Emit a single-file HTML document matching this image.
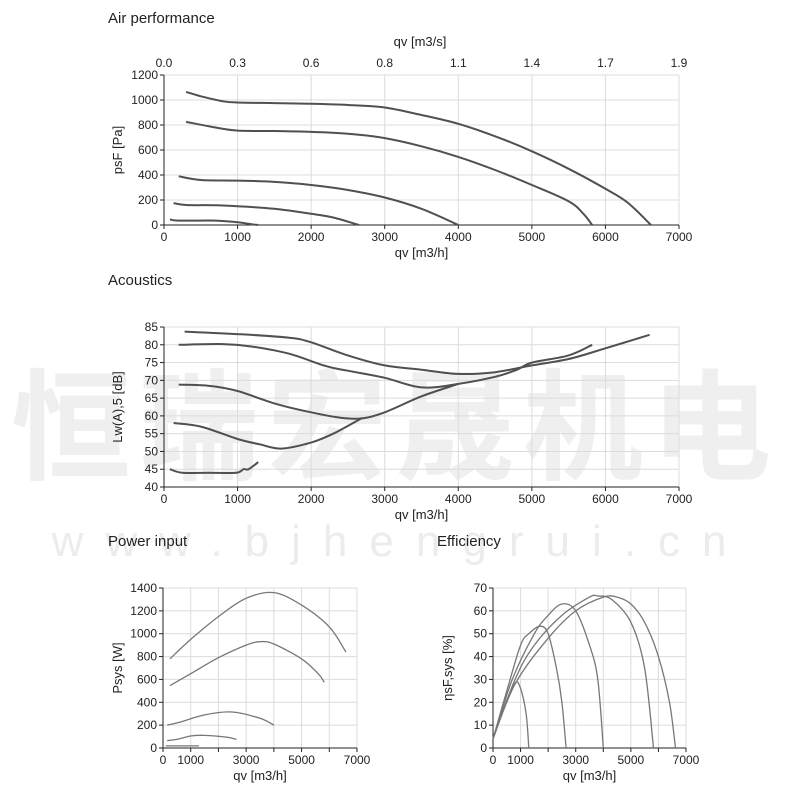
<!DOCTYPE html>
<html><head><meta charset="utf-8">
<style>
body{margin:0;background:#fff;width:800px;height:800px;overflow:hidden}
svg text{font-family:"Liberation Sans",sans-serif;fill:#222}
</style></head><body>
<svg id="s" width="800" height="800" xmlns="http://www.w3.org/2000/svg">
<text x="395" y="470" font-size="120" style="font-family:'Liberation Sans','Noto Sans CJK SC',sans-serif;fill:#efefef;font-weight:bold" text-anchor="middle" letter-spacing="8">恒瑞宏晟机电</text>
<text x="400" y="556" font-size="44" style="fill:#ececec" text-anchor="middle" letter-spacing="22">www.bjhengrui.cn</text>
<text x="108" y="23" font-size="15">Air performance</text>
<text x="108" y="285" font-size="15">Acoustics</text>
<text x="108" y="546" font-size="15">Power input</text>
<text x="437" y="546" font-size="15">Efficiency</text>
</svg>
<script>
const S=document.getElementById('s');const NS='http://www.w3.org/2000/svg';
function el(t,a,txt){const e=document.createElementNS(NS,t);for(const k in a)e.setAttribute(k,a[k]);if(txt!==undefined)e.textContent=txt;S.appendChild(e);return e;}
function path(pts){let d='M'+pts[0][0].toFixed(1)+','+pts[0][1].toFixed(1);
for(let i=0;i<pts.length-1;i++){const p0=pts[Math.max(0,i-1)],p1=pts[i],p2=pts[i+1],p3=pts[Math.min(pts.length-1,i+2)];
const c1=[p1[0]+(p2[0]-p0[0])/6,p1[1]+(p2[1]-p0[1])/6],c2=[p2[0]-(p3[0]-p1[0])/6,p2[1]-(p3[1]-p1[1])/6];
d+=`C${c1[0].toFixed(1)},${c1[1].toFixed(1)} ${c2[0].toFixed(1)},${c2[1].toFixed(1)} ${p2[0].toFixed(1)},${p2[1].toFixed(1)}`;}return d;}
function chart(o){
 const X=v=>o.x0+(o.x1-o.x0)*v/7000, Y=v=>o.yb-(o.yb-o.yt)*(v-o.ymin)/(o.ymax-o.ymin);
 for(let v=0;v<=7000;v+=1000){el('line',{x1:X(v),x2:X(v),y1:o.yt,y2:o.yb,stroke:'#dcdcdc','stroke-width':1});
  el('line',{x1:X(v),x2:X(v),y1:o.yb,y2:o.yb+4,stroke:'#222'});
  if(o.xl.includes(v))el('text',{x:X(v),y:o.yb+16,'font-size':12,'text-anchor':'middle'},v);}
 for(let v=o.ymin;v<=o.ymax;v+=o.ys){el('line',{x1:o.x0,x2:o.x1,y1:Y(v),y2:Y(v),stroke:'#dcdcdc'});
  el('line',{x1:o.x0-4,x2:o.x0,y1:Y(v),y2:Y(v),stroke:'#222'});
  el('text',{x:o.x0-6,y:Y(v)+4,'font-size':12,'text-anchor':'end'},v);}
 el('line',{x1:o.x0,x2:o.x0,y1:o.yt,y2:o.yb,stroke:'#222'});
 el('line',{x1:o.x0,x2:o.x1,y1:o.yb,y2:o.yb,stroke:'#222'});
 el('text',{x:(o.x0+o.x1)/2,y:o.yb+32,'font-size':13,'text-anchor':'middle'},'qv [m3/h]');
 const cy=(o.yt+o.yb)/2;el('text',{x:o.ylx,y:cy,'font-size':13,'text-anchor':'middle',transform:`rotate(-90 ${o.ylx} ${cy})`},o.yl);
 for(const c of o.curves)el('path',{d:path(c.map(p=>[X(p[0]),Y(p[1])])),fill:'none',stroke:o.col,'stroke-width':o.w,'stroke-linejoin':'round'});
 return X;}
const X1=chart({x0:164,x1:679,yt:75,yb:225,ymin:0,ymax:1200,ys:200,xl:[0,1000,2000,3000,4000,5000,6000,7000],ylx:122,yl:'psF [Pa]',col:'#505050',w:2,curves:[
[[300,1065],[500,1030],[800,990],[1000,980],[1500,975],[2000,970],[2500,960],[3000,940],[3500,880],[4000,810],[4500,710],[5000,590],[5500,450],[6000,290],[6300,180],[6620,0]],
[[300,825],[700,780],[1000,755],[1500,752],[2000,745],[2500,730],[3000,695],[3500,630],[4000,545],[4500,440],[5000,320],[5500,190],[5700,90],[5820,0]],
[[200,390],[500,360],[1000,355],[1500,345],[2000,320],[2500,280],[3000,220],[3500,130],[4000,0]],
[[130,175],[300,160],[700,158],[1000,150],[1500,130],[2000,90],[2300,60],[2650,0]],
[[80,45],[200,35],[700,35],[1000,22],[1200,5],[1280,0]]]});
el('text',{x:420,y:46,'font-size':13,'text-anchor':'middle'},'qv [m3/s]');
['0.0','0.3','0.6','0.8','1.1','1.4','1.7','1.9'].forEach((t,i)=>el('text',{x:X1(i*1000),y:67,'font-size':12,'text-anchor':'middle'},t));
chart({x0:164,x1:679,yt:327,yb:487,ymin:40,ymax:85,ys:5,xl:[0,1000,2000,3000,4000,5000,6000,7000],ylx:122,yl:'Lw(A),5 [dB]',col:'#505050',w:2,curves:[
[[280,83.7],[1000,83],[1700,82],[2000,80.7],[2500,77],[3000,74.2],[3500,73],[4000,71.8],[4500,72.3],[5000,74.2],[5500,76],[6000,79],[6600,82.8]],
[[200,80],[800,80.2],[1200,79.5],[1700,77.5],[2200,74],[2500,72.7],[3000,70.7],[3500,68],[4000,69],[4500,71],[4800,73],[5000,75],[5500,77],[5820,80]],
[[200,68.8],[600,68.5],[1000,67],[1500,63.5],[2000,61],[2400,59.5],[2700,59.3],[3000,61],[3500,65.5],[4000,69]],
[[130,58],[500,57],[1000,53.5],[1300,52],[1600,50.8],[2000,52.5],[2300,55],[2700,59.5]],
[[80,45],[250,44],[600,44],[980,44],[1080,45],[1150,45],[1280,47]]]});
chart({x0:163,x1:357,yt:588,yb:748,ymin:0,ymax:1400,ys:200,xl:[0,1000,3000,5000,7000],ylx:122,yl:'Psys [W]',col:'#777',w:1.3,curves:[
[[250,780],[1000,950],[2000,1150],[3000,1310],[4000,1360],[5000,1250],[6000,1060],[6600,840]],
[[250,545],[1000,650],[2000,790],[3000,900],[3500,930],[4000,910],[5000,780],[5600,650],[5820,575]],
[[150,200],[600,225],[1500,290],[2500,315],[3500,260],[4000,200]],
[[150,65],[500,75],[1000,105],[1500,110],[2300,95],[2650,75]],
[[100,18],[1300,18]]]});
chart({x0:493,x1:686,yt:588,yb:748,ymin:0,ymax:70,ys:10,xl:[0,1000,3000,5000,7000],ylx:452,yl:'ηsF,sys [%]',col:'#777',w:1.3,curves:[
[[0,4],[400,18],[800,28.5],[1000,26],[1200,15],[1300,0]],
[[0,4],[500,25],[1000,45],[1300,50],[1700,53.3],[2000,50],[2300,35],[2500,20],[2650,0]],
[[0,4],[700,30],[1500,50],[2000,58],[2500,63],[3000,60],[3500,45],[3800,30],[4000,0]],
[[0,4],[800,30],[1500,45],[2500,58],[3500,66],[3800,66.5],[4300,65],[5000,55],[5500,35],[5820,0]],
[[0,4],[800,28],[2000,48],[3000,60],[4000,66],[4500,66],[5000,63],[5500,55],[6000,40],[6400,20],[6620,0]]]});
</script>
</body></html>
